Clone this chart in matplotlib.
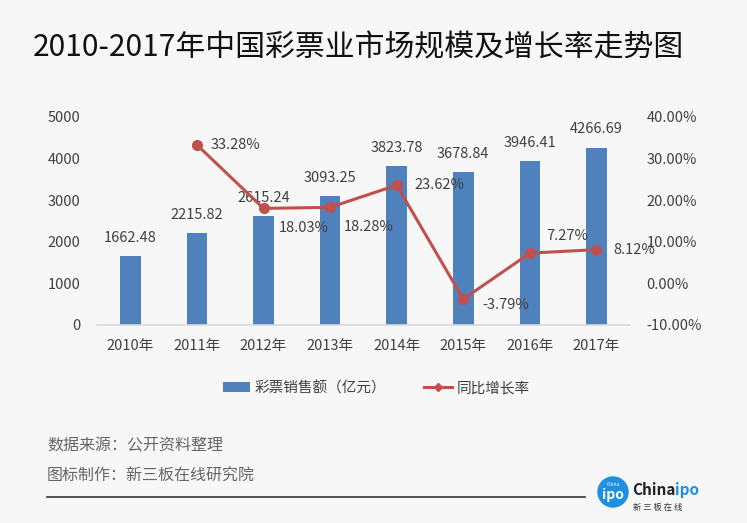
import matplotlib
matplotlib.use('Agg')
import matplotlib.pyplot as plt
from matplotlib.patches import Patch, Circle
from matplotlib.lines import Line2D

plt.rcParams['font.family'] = ['Noto Sans CJK SC', 'DejaVu Sans']

# data
years = ['2010年', '2011年', '2012年', '2013年', '2014年', '2015年', '2016年', '2017年']
sales = [1662.48, 2215.82, 2615.24, 3093.25, 3823.78, 3678.84, 3946.41, 4266.69]
growth = [None, 33.28, 18.03, 18.28, 23.62, -3.79, 7.27, 8.12]

bg = '#F8F7F8'
blue = '#4F81BD'
red = '#C0504D'
txt = '#404040'

fig = plt.figure(figsize=(7.47, 5.23), dpi=100, facecolor=bg)
ax = fig.add_axes([0.130, 0.3786, 0.713, 0.3977])
ax.set_facecolor(bg)
x = list(range(len(years)))

ax.bar(x, sales, width=0.31, color=blue, zorder=2)
for xi, v in zip(x, sales):
    ax.annotate('%.2f' % v, (xi, v), xytext=(0, 8), textcoords='offset points',
                ha='center', va='bottom', fontsize=10.5, color=txt, zorder=5)

ax.set_xlim(-0.5, 7.5)
ax.set_ylim(0, 5000)
ax.set_yticks([0, 1000, 2000, 3000, 4000, 5000])
ax.set_xticks(x)
ax.set_xticklabels(years)
ax.tick_params(axis='y', length=0, pad=12, labelsize=10.5, labelcolor=txt)
ax.tick_params(axis='x', length=0, pad=10, labelsize=10.5, labelcolor=txt)
for s in ['top', 'right', 'left']:
    ax.spines[s].set_visible(False)
ax.spines['bottom'].set_color('#D9D9D9')
ax.spines['bottom'].set_linewidth(1.2)

ax2 = ax.twinx()
gx = [xi for xi, g in zip(x, growth) if g is not None]
gy = [g for g in growth if g is not None]
ax2.plot(gx, gy, color=red, lw=2.2, marker='o', ms=7, zorder=4)
ax2.set_ylim(-10, 40)
ax2.set_yticks([-10, 0, 10, 20, 30, 40])
ax2.set_yticklabels(['%.2f%%' % t for t in [-10, 0, 10, 20, 30, 40]])
ax2.tick_params(axis='y', length=0, pad=12, labelsize=10.5, labelcolor=txt)
for s in ['top', 'right', 'left', 'bottom']:
    ax2.spines[s].set_visible(False)

label_offsets = [(10, 0), (11, -14), (10, -14), (13, 0), (14, -4), (12, 12), (12, 0)]
for xi, g, off in zip(gx, gy, label_offsets):
    ax2.annotate('%.2f%%' % g, (xi, g), xytext=off, textcoords='offset points',
                 ha='left', va='center', fontsize=10.5, color=txt, zorder=6)

# title
fig.text(33 / 747, 1 - 48 / 523, '2010-2017年中国彩票业市场规模及增长率走势图',
         fontsize=21.5, color='#111111', ha='left', va='center')

# legend
handles = [Patch(facecolor=blue, edgecolor='none'),
           Line2D([], [], color=red, lw=2.2, marker='D', ms=4)]
fig.legend(handles, ['彩票销售额（亿元）', '同比增长率'], loc='center',
           bbox_to_anchor=(376 / 747, 1 - 388 / 523), ncol=2, frameon=False,
           fontsize=10.5, handlelength=1.9, handleheight=0.6, handletextpad=0.3,
           columnspacing=2.6, labelcolor=txt)

# footer
fig.text(47 / 747, 1 - 446 / 523, '数据来源：公开资料整理', fontsize=11.5, color='#666666',
         ha='left', va='center')
fig.text(47 / 747, 1 - 476 / 523, '图标制作：新三板在线研究院', fontsize=11.5, color='#666666',
         ha='left', va='center')
fig.add_artist(Line2D([47 / 747, 585 / 747], [1 - 497 / 523, 1 - 497 / 523],
                      color='#333333', lw=1.2))

# logo (1 unit = 1 px)
lax = fig.add_axes([590 / 747, 0, 157 / 747, 50 / 523])
lax.set_xlim(0, 157)
lax.set_ylim(0, 50)
lax.set_aspect('equal')
lax.axis('off')
lax.add_patch(Circle((23, 31), 15, color='#1E8FE1'))
lax.text(23, 38, 'China', fontsize=3.5, color='white', ha='center', va='center')
lax.text(23, 28, 'ipo', fontsize=10, color='white', ha='center', va='center', fontweight='bold')
t1 = lax.text(42, 33, 'China', fontsize=11, color='#222222', ha='left', va='center',
              fontweight='bold')
lax.annotate('ipo', xy=(1, 0.5), xycoords=t1, ha='left', va='center', fontsize=11,
             color='#1E8FE1', fontweight='bold')
lax.text(43, 16, '新 三 板 在 线', fontsize=6, color='#333333', ha='left', va='center')

fig.savefig('out.png', dpi=100, facecolor=bg)
